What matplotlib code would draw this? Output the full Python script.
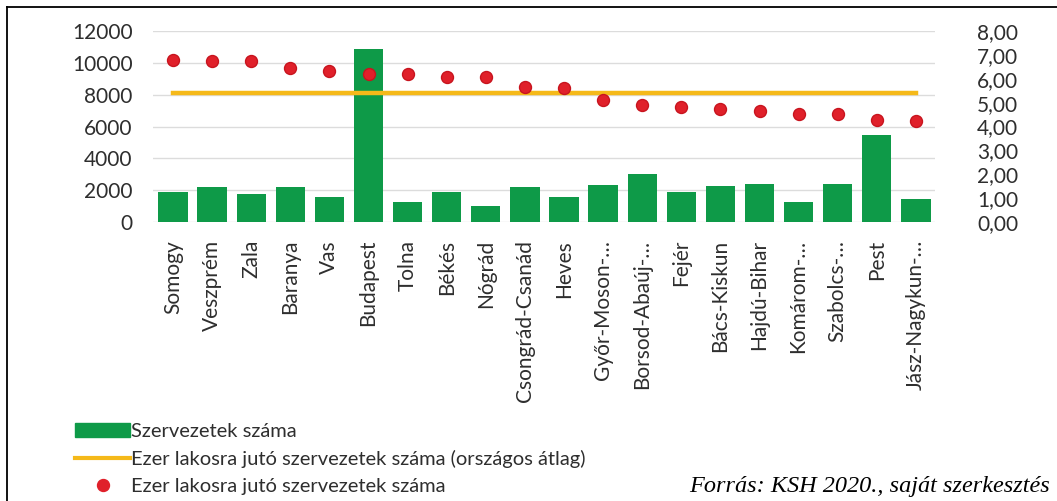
#!/usr/bin/env python3
import matplotlib
matplotlib.use('Agg')
import matplotlib.pyplot as plt
from matplotlib.lines import Line2D
from matplotlib.patches import Patch
from matplotlib.ticker import FuncFormatter

counties = ['Somogy', 'Veszprém', 'Zala', 'Baranya', 'Vas', 'Budapest', 'Tolna',
            'Békés', 'Nógrád', 'Csongrád-Csanád', 'Heves', 'Győr-Moson-…',
            'Borsod-Abaúj-…', 'Fejér', 'Bács-Kiskun', 'Hajdú-Bihar', 'Komárom-…',
            'Szabolcs-…', 'Pest', 'Jász-Nagykun-…']
org_count = [1900, 2210, 1730, 2210, 1540, 10900, 1230, 1900, 1020, 2170, 1540,
             2350, 3040, 1900, 2270, 2400, 1270, 2400, 5480, 1420]
per_thousand = [6.79, 6.74, 6.74, 6.44, 6.32, 6.19, 6.19, 6.08, 6.08, 5.67, 5.61,
                5.13, 4.89, 4.81, 4.74, 4.67, 4.53, 4.53, 4.28, 4.22]
national_avg = 5.39

GREEN = '#0e9a48'
GOLD = '#f5b919'
RED = '#e0202a'
TXT = '#2e2e2e'
FONT = 'Lato'

plt.rcParams['font.family'] = [FONT, 'DejaVu Sans']

fig = plt.figure(figsize=(10.57, 5.01), dpi=100)
ax = fig.add_axes([0.1452, 0.557, 0.7398, 0.381])
ax2 = ax.twinx()

x = list(range(len(counties)))
ax.bar(x, org_count, width=0.75, color=GREEN, zorder=2)
ax.set_ylim(0, 12000)
ax.set_yticks(range(0, 12001, 2000))
ax.set_xlim(-0.5, len(counties) - 0.5)
ax.set_xticks(x)
ax.set_xticklabels(counties, rotation=90, fontsize=15, color=TXT)
ax.grid(axis='y', color='#dcdcdc', lw=1, zorder=0)
ax.tick_params(axis='y', length=0, pad=15, labelsize=15, labelcolor=TXT)
ax.tick_params(axis='x', length=0, pad=13)

ax2.plot(x, [national_avg] * len(x), color=GOLD, lw=3.2, zorder=3)
ax2.plot(x, per_thousand, 'o', color=RED, markeredgecolor='#c8141e',
         markersize=8.6, zorder=4)
ax2.set_ylim(0, 8)
ax2.set_yticks(range(0, 9))
ax2.yaxis.set_major_formatter(FuncFormatter(lambda v, p: f'{v:.2f}'.replace('.', ',')))
ax2.tick_params(axis='y', which='both', length=0, pad=30, labelsize=15, labelcolor=TXT)

for a in (ax, ax2):
    for s in a.spines.values():
        s.set_visible(False)

handles = [Patch(color=GREEN),
           Line2D([], [], color=GOLD, lw=3),
           Line2D([], [], ls='', marker='o', color=RED, markersize=8.6)]
labels = ['Szervezetek száma',
          'Ezer lakosra jutó szervezetek száma (országos átlag)',
          'Ezer lakosra jutó szervezetek száma']
fig.legend(handles, labels, loc='lower left', bbox_to_anchor=(0.058, -0.016),
           frameon=False, fontsize=14.5, labelcolor=TXT, handlelength=2.7,
           handletextpad=0.05, labelspacing=0.5, borderaxespad=0.3)

fig.text(0.993, 0.018, 'Forrás: KSH 2020., saját szerkesztés', ha='right',
         va='baseline', fontsize=17.5, style='italic', family='Liberation Serif')

# frame lines (top and left)
fig.add_artist(Line2D([7 / 1057, 1.0], [1 - 7 / 501, 1 - 7 / 501],
                      color='black', lw=1.3, transform=fig.transFigure))
fig.add_artist(Line2D([7 / 1057, 7 / 1057], [0.0, 1 - 7 / 501],
                      color='black', lw=1.3, transform=fig.transFigure))

fig.savefig('out.png', dpi=100)
